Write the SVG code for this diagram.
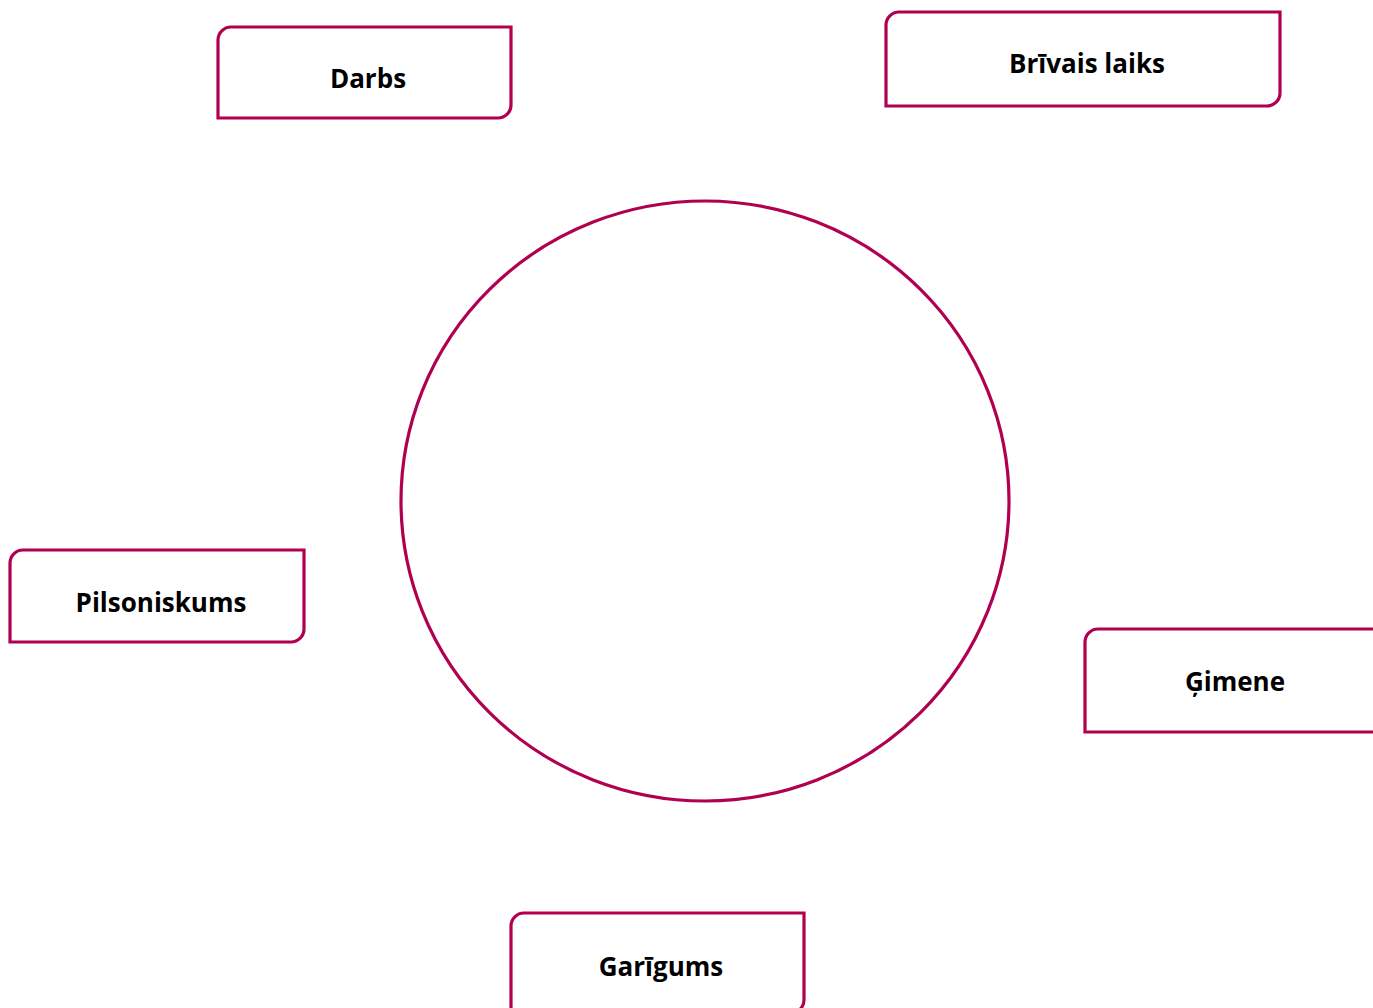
<svg xmlns="http://www.w3.org/2000/svg" width="1373" height="1008" viewBox="0 0 1373 1008">
<style>
.box{fill:#fff;stroke:#B0004F;stroke-width:3.2}
.lbl{font-family:"Open Sans","Noto Sans","Liberation Sans",sans-serif;font-weight:bold;font-size:26px;fill:#000;text-anchor:middle}
</style>
<rect width="1373" height="1008" fill="#fff"/>
<g id="center">
<ellipse cx="705" cy="501" rx="304" ry="300" fill="none" stroke="#B0004F" stroke-width="3.2"/>
</g>
<g id="darbs">
<path class="box" d="M231,27 H511 V105 A13,13 0 0 1 498,118 H218 V40 A13,13 0 0 1 231,27 Z"/>
<text class="lbl" x="368" y="88">Darbs</text>
</g>
<g id="brivais-laiks">
<path class="box" d="M899,12 H1280 V93 A13,13 0 0 1 1267,106 H886 V25 A13,13 0 0 1 899,12 Z"/>
<text class="lbl" x="1087" y="73">Brīvais laiks</text>
</g>
<g id="pilsoniskums">
<path class="box" d="M23,550 H304 V629 A13,13 0 0 1 291,642 H10 V563 A13,13 0 0 1 23,550 Z"/>
<text class="lbl" x="161" y="612">Pilsoniskums</text>
</g>
<g id="gimene">
<path class="box" d="M1098,629 H1385 V719 A13,13 0 0 1 1372,732 H1085 V642 A13,13 0 0 1 1098,629 Z"/>
<text class="lbl" x="1235" y="691">Ģimene</text>
</g>
<g id="garigums">
<path class="box" d="M524,913 H804 V1000 A13,13 0 0 1 791,1013 H511 V926 A13,13 0 0 1 524,913 Z"/>
<text class="lbl" x="661" y="976">Garīgums</text>
</g>
<g id="connectors"></g>
</svg>
